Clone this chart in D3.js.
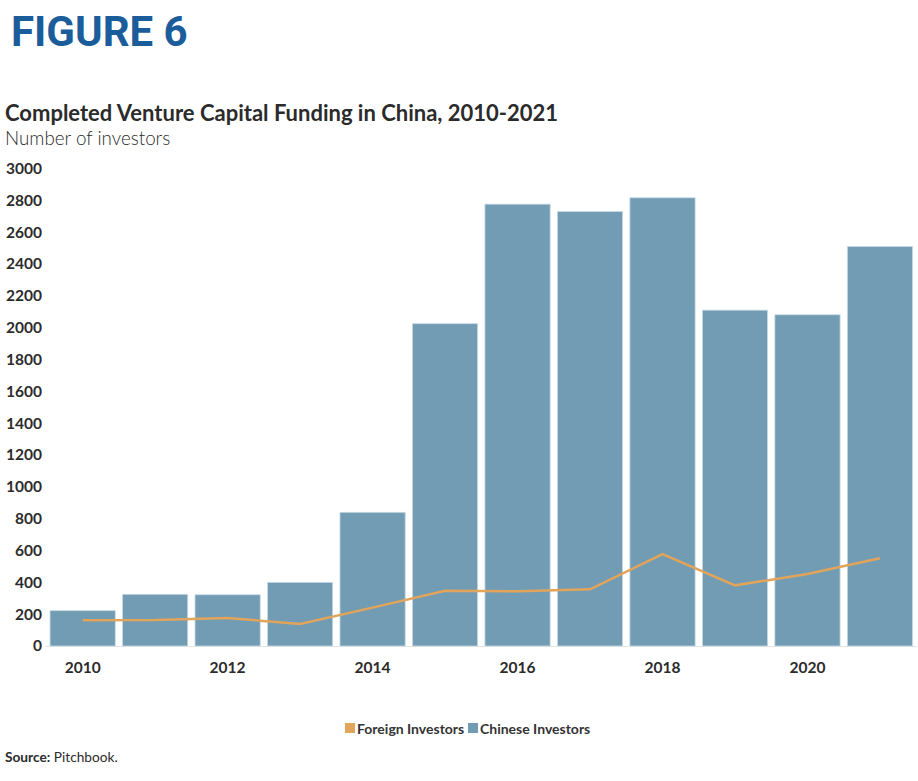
<!DOCTYPE html>
<html><head><meta charset="utf-8">
<script src="https://cdn.jsdelivr.net/npm/d3@7"></script>
<style>
body{margin:0;background:#fff;}
text{font-family:"Lato","Open Sans",sans-serif;}
</style></head>
<body><svg id="c" width="918" height="781"></svg>
<script>
const years = [2010,2011,2012,2013,2014,2015,2016,2017,2018,2019,2020,2021];
const chineseInvestors = [222,325,322,400,840,2025,2776,2730,2816,2110,2081,2510];
const foreignInvestors = [161,163,176,138,241,347,344,356,578,381,452,551];
const yTicks = [0,200,400,600,800,1000,1200,1400,1600,1800,2000,2200,2400,2600,2800,3000];
const xTickLabels = [2010,2012,2014,2016,2018,2020];

const svg = d3.select("#c");
const barColor = "#729cb3", lineColor = "#e2a45a";

svg.append("text").attr("x",11).attr("y",46).attr("fill","#1b5c9a")
  .attr("font-size",42).attr("font-weight",700).style("font-family","Roboto,sans-serif").text("FIGURE 6");
svg.append("text").attr("x",5).attr("y",121).attr("fill","#2b2b2b")
  .attr("font-size",22).attr("font-weight",700).text("Completed Venture Capital Funding in China, 2010-2021");
svg.append("text").attr("x",5).attr("y",145).attr("fill","#2b2b2b")
  .attr("font-size",18.8).attr("font-weight",300).text("Number of investors");

const x = d3.scaleBand().domain(years).range([46.4,916.2]).paddingInner(0.1).paddingOuter(0.05);
const y = d3.scaleLinear().domain([0,3000]).range([646,168.5]);

const yAxis = svg.append("g").attr("transform","translate(42,0)")
  .call(d3.axisLeft(y).tickValues(yTicks).tickSize(0).tickPadding(0).tickFormat(d3.format("d")));
yAxis.select(".domain").remove();
yAxis.selectAll("text").attr("font-size",15.5).attr("font-weight",700).attr("fill","#2b2b2b")
  .style("font-family","Lato,sans-serif");

svg.append("line").attr("x1",46).attr("x2",917).attr("y1",y(0)+0.5).attr("y2",y(0)+0.5)
  .attr("stroke","#e3e3e3").attr("stroke-width",1);

svg.append("g").selectAll("rect").data(years).join("rect")
  .attr("x",d=>x(d)).attr("width",x.bandwidth())
  .attr("y",(d,i)=>y(chineseInvestors[i])).attr("height",(d,i)=>y(0)-y(chineseInvestors[i]))
  .attr("fill",barColor).attr("stroke","#c9dbe6").attr("stroke-width",0.8);

const line = d3.line().x((d,i)=>x(years[i])+x.bandwidth()/2).y(d=>y(d));
svg.append("path").datum(foreignInvestors).attr("d",line)
  .attr("fill","none").attr("stroke",lineColor).attr("stroke-width",2.5);

const xAxis = svg.append("g").attr("transform",`translate(0,${y(0)})`)
  .call(d3.axisBottom(x).tickValues(xTickLabels).tickSize(0).tickPadding(16));
xAxis.select(".domain").remove();
xAxis.selectAll("text").attr("font-size",15.5).attr("font-weight",700).attr("fill","#2b2b2b")
  .style("font-family","Lato,sans-serif");

const legend = [["Foreign Investors",lineColor,345],["Chinese Investors",barColor,468]];
const lg = svg.append("g");
legend.forEach(([t,c,lx])=>{
  lg.append("rect").attr("x",lx).attr("y",723).attr("width",10).attr("height",10).attr("fill",c);
  lg.append("text").attr("x",lx+12).attr("y",733.5).attr("font-size",14).attr("font-weight",700)
    .attr("fill","#333").text(t);
});

const src = svg.append("text").attr("x",5).attr("y",762).attr("font-size",13.7).attr("fill","#2b2b2b");
src.append("tspan").attr("font-weight",700).text("Source:");
src.append("tspan").attr("font-weight",400).text(" Pitchbook.");
</script></body></html>
